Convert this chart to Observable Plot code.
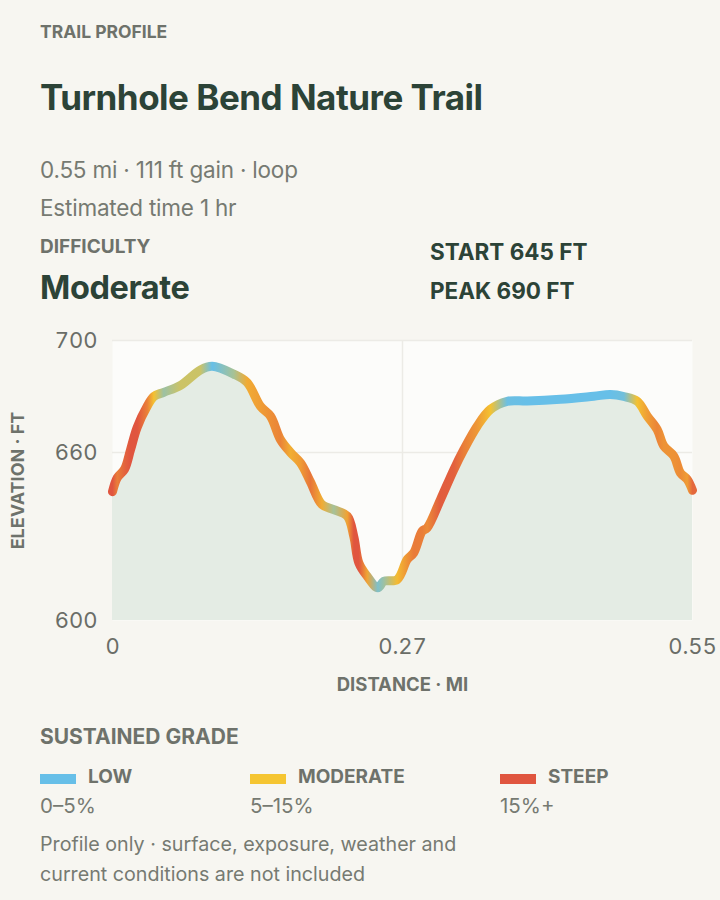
<!DOCTYPE html>
<html>
<head>
<meta charset="utf-8">
<script src="https://cdn.jsdelivr.net/npm/d3@7"></script>
<script src="https://cdn.jsdelivr.net/npm/@observablehq/plot@0.6"></script>
<style>
  html, body { margin: 0; padding: 0; background: #f7f6f1; }
  body { width: 720px; height: 900px; position: relative; overflow: hidden; font-family: Inter, "Noto Sans", sans-serif; }
  .t { position: absolute; white-space: nowrap; line-height: 1.2; }
  .eyebrow { font-weight: 700; color: #6e726b; }
  .title { font-size: 35px; font-weight: 700; color: #2c4337; letter-spacing: -0.5px; }
  .meta { font-size: 22.5px; font-weight: 400; color: #767a72; letter-spacing: -0.2px; }
  .big { font-size: 32.5px; font-weight: 700; color: #2c4337; letter-spacing: -0.4px; }
  .stat { font-size: 22.5px; font-weight: 700; color: #2c4337; }
  .leglab { font-size: 19px; font-weight: 700; color: #6e726b; }
  .legsub { font-size: 20.5px; font-weight: 400; color: #767a72; }
  .foot { font-size: 19.7px; font-weight: 400; color: #767a72; }
  .sw { position: absolute; width: 36px; height: 10px; }
  #chart { position: absolute; left: 0; top: 320px; }
</style>
</head>
<body>
<div class="t eyebrow" style="left:40px; top:20.5px; font-size:17.5px">TRAIL PROFILE</div>
<div class="t title" style="left:40px; top:76px">Turnhole Bend Nature Trail</div>
<div class="t meta" style="left:40px; top:155.5px">0.55 mi · 111 ft gain · loop</div>
<div class="t meta" style="left:40px; top:193.5px">Estimated time 1 hr</div>
<div class="t eyebrow" style="left:40px; top:235.6px; font-size:19px">DIFFICULTY</div>
<div class="t big" style="left:40px; top:267.5px">Moderate</div>
<div class="t stat" style="left:430px; top:237.5px">START 645 FT</div>
<div class="t stat" style="left:430px; top:276.5px">PEAK 690 FT</div>
<div id="chart"></div>
<div class="t eyebrow" style="left:40px; top:724.4px; font-size:21px">SUSTAINED GRADE</div>
<div id="legend"></div>
<div class="t foot" style="left:40px; top:833px">Profile only · surface, exposure, weather and</div>
<div class="t foot" style="left:40px; top:863px">current conditions are not included</div>
<script>
// ---- data ----
const distanceMi = [0.000, 0.0045, 0.0114, 0.0171, 0.0234, 0.0329, 0.0392, 0.0486, 0.0645, 0.0834,
  0.0945, 0.1150, 0.1277, 0.1403, 0.1498, 0.1593, 0.1688, 0.1783, 0.1877, 0.1986,
  0.2098, 0.2226, 0.2288, 0.2336, 0.2415, 0.2516, 0.2573, 0.2700, 0.2795, 0.2857,
  0.2937, 0.2984, 0.3110, 0.3237, 0.3331, 0.3458, 0.3584, 0.3743, 0.3933, 0.4248,
  0.4564, 0.4722, 0.4849, 0.4976, 0.5071, 0.5165, 0.5228, 0.5323, 0.5386, 0.5450, 0.5500];
const elevationFt = [646, 651, 654, 661, 669, 676.5, 680, 681.5, 684, 689.5,
  690.8, 688, 685, 676.5, 673, 664.6, 660, 656.3, 649.5, 641.4,
  639.6, 637.3, 630, 620.6, 615.8, 611.7, 614, 614.6, 621.8, 624.2,
  631.9, 633.1, 643.2, 653.9, 661, 669.4, 675.4, 678.3, 678.4, 679,
  680.1, 680.7, 680, 678.3, 673, 668.2, 662.3, 658.7, 652.7, 650.4, 646.5];
const xDomain = [0, 0.55];
const yDomain = [600, 700];
const xTicks = [0, 0.275, 0.55];
const xTickLabels = ["0", "0.27", "0.55"];
const yTicks = [600, 660, 700];
const gradeNames = ["LOW", "MODERATE", "STEEP"];
const gradeRanges = ["0–5%", "5–15%", "15%+"];
const gradeColors = ["#67bfe8", "#f5c531", "#e0553f"];

// ---- derived table ----
const points = distanceMi.map((d, i) => ({ d, e: elevationFt[i] }));
points.forEach((p, i) => {
  const a = points[Math.max(0, i - 1)], b = points[Math.min(points.length - 1, i + 1)];
  p.grade = Math.abs(b.e - a.e) / ((b.d - a.d) * 5280) * 100;
});
const gradeColor = d3.scaleLinear()
  .domain([0, 1.5, 5.5, 12.5, 16])
  .range([gradeColors[0], gradeColors[0], gradeColors[1], "#ec8a37", gradeColors[2]])
  .interpolate(d3.interpolateRgb)
  .clamp(true);

const gridColor = "#ecebe6";
const chart = Plot.plot({
  width: 720,
  height: 380,
  marginTop: 20,
  marginBottom: 80,
  marginLeft: 112,
  marginRight: 28,
  style: { fontFamily: "Inter, 'Noto Sans', sans-serif", fontSize: "22px", color: "#6a6d67", background: "transparent", overflow: "visible" },
  x: { domain: xDomain, ticks: xTicks, tickFormat: v => xTickLabels[xTicks.indexOf(v)], tickSize: 0, tickPadding: 18, label: null },
  y: { domain: yDomain, ticks: yTicks, tickSize: 0, tickPadding: 15, label: null },
  marks: [
    Plot.frame({ fill: "#fcfcfa", stroke: "none" }),
    Plot.ruleY(yTicks.filter(v => v > yDomain[0]), { stroke: gridColor, strokeWidth: 1.5 }),
    Plot.ruleX(xTicks.filter(v => v > xDomain[0] && v < xDomain[1]), { stroke: gridColor, strokeWidth: 1.5 }),
    Plot.areaY(points, { x: "d", y1: yDomain[0], y2: "e", fill: "#e4ece4", curve: "catmull-rom" }),
    Plot.line(points, { x: "d", y: "e", stroke: "url(#gradeGradient)", strokeWidth: 9, strokeLinecap: "round", strokeLinejoin: "round", curve: "catmull-rom" }),
    Plot.text(["ELEVATION · FT"], { frameAnchor: "left", textAnchor: "middle", dx: -94, rotate: -90, fontSize: 18, fontWeight: 700, fill: "#6e726b" }),
    Plot.text(["DISTANCE · MI"], { frameAnchor: "bottom", textAnchor: "middle", dy: 70, fontSize: 18.5, fontWeight: 700, fill: "#6e726b" })
  ]
});

// gradient stops positioned through Plot's x scale
const xs = chart.scale("x");
const gx0 = xs.apply(xDomain[0]), gx1 = xs.apply(xDomain[1]);
const grad = d3.select(chart).insert("defs", ":first-child")
  .append("linearGradient")
  .attr("id", "gradeGradient")
  .attr("gradientUnits", "userSpaceOnUse")
  .attr("x1", gx0).attr("x2", gx1).attr("y1", 0).attr("y2", 0);
grad.selectAll("stop").data(points).join("stop")
  .attr("offset", p => (xs.apply(p.d) - gx0) / (gx1 - gx0))
  .attr("stop-color", p => gradeColor(p.grade));

document.getElementById("chart").appendChild(chart);

// legend
const legendX = [40, 250, 500];
const legend = d3.select("#legend");
gradeNames.forEach((name, i) => {
  legend.append("div").attr("class", "sw").style("left", legendX[i] + "px").style("top", "774px").style("background", gradeColors[i]);
  legend.append("div").attr("class", "t leglab").style("left", (legendX[i] + 48) + "px").style("top", "765.6px").text(name);
  legend.append("div").attr("class", "t legsub").style("left", legendX[i] + "px").style("top", "794px").text(gradeRanges[i]);
});
</script>
</body>
</html>
